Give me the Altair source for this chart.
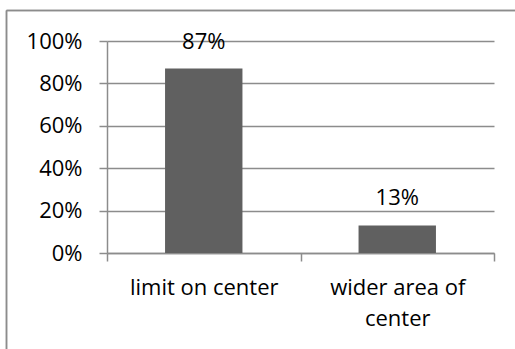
import altair as alt
import pandas as pd

# Share of responses per option
categories = ["limit on center", "wider area of\ncenter"]
shares = [0.87, 0.13]
share_labels = ["87%", "13%"]
y_ticks = [0, 0.2, 0.4, 0.6, 0.8, 1.0]

df = pd.DataFrame({"option": categories, "share": shares, "label": share_labels})

FONT = "Open Sans"
FS = 22
GRID = "#8c8c8c"
W, H = 387, 212

x_enc = alt.X(
    "option:N",
    sort=categories,
    scale=alt.Scale(paddingInner=0, paddingOuter=0),
    axis=alt.Axis(
        title=None,
        labelAngle=0,
        labelExpr="split(datum.label, '\\n')",
        labelFont=FONT,
        labelFontSize=FS,
        labelColor="#000000",
        labelPadding=16,
        labelLineHeight=31,
        tickBand="extent",
        tickSize=8,
        tickColor=GRID,
        tickWidth=1.5,
        domainColor=GRID,
        domainWidth=1.5,
        grid=False,
    ),
)

y_enc = alt.Y(
    "share:Q",
    scale=alt.Scale(domain=[0, 1]),
    axis=alt.Axis(
        title=None,
        values=y_ticks,
        format=".0%",
        labelFont=FONT,
        labelFontSize=FS,
        labelColor="#000000",
        labelPadding=17,
        tickSize=8,
        tickColor=GRID,
        tickWidth=1.5,
        domainColor=GRID,
        domainWidth=1.5,
        gridColor=GRID,
        gridWidth=1.5,
    ),
)

bars = alt.Chart(df).mark_bar(
    color="#606060", width=alt.RelativeBandSize(0.4)
).encode(x=x_enc, y=y_enc)

values = alt.Chart(df).mark_text(
    font=FONT, fontSize=FS, color="#000000", baseline="alphabetic", dy=-20
).encode(x=alt.X("option:N", sort=categories), y="share:Q", text="label:N")

# Outer chart frame (left and top edges)
frame_left = alt.Chart(df).mark_rule(color=GRID, strokeWidth=1.5).encode(
    x=alt.value(-100.5), y=alt.value(-30.5), y2=alt.value(320)
)
frame_top = alt.Chart(df).mark_rule(color=GRID, strokeWidth=1.5).encode(
    x=alt.value(-100.5), x2=alt.value(420), y=alt.value(-30.5)
)

chart = (
    alt.layer(bars, values, frame_left, frame_top)
    .properties(
        width=W,
        height=H,
        autosize=alt.AutoSizeParams(type="none"),
        padding={"left": 107, "top": 41, "right": 21, "bottom": 96},
        background="#ffffff",
    )
    .configure_view(stroke=None)
)

chart.save("out.html", embed_options={"renderer": "svg", "actions": False})
